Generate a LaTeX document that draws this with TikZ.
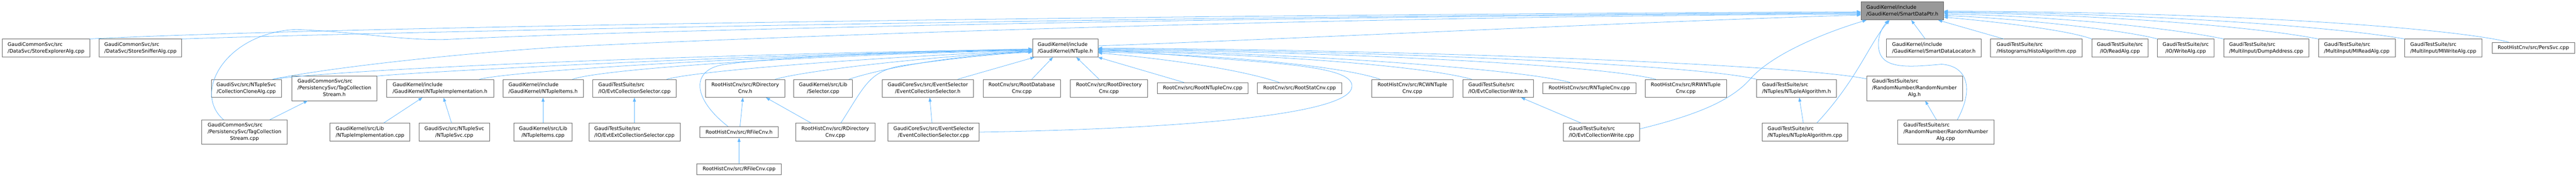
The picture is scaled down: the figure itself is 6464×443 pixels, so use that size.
\documentclass[tikz,border=0pt]{standalone}
\usepackage{fontspec}
\setmainfont{DejaVu Sans}
\usetikzlibrary{arrows.meta}
\definecolor{edgeblue}{HTML}{63B8FF}
\definecolor{boxgray}{HTML}{666666}
\definecolor{rootfill}{HTML}{999999}
\newcommand\dtwo[2]{\begin{tabular}{@{}l@{}}#1\\\multicolumn{1}{@{}c@{}}{#2}\end{tabular}}
\newcommand\dthree[3]{\begin{tabular}{@{}l@{}}#1\\#2\\\multicolumn{1}{@{}c@{}}{#3}\end{tabular}}
\begin{document}
\begin{tikzpicture}[x=1pt,y=-1pt,
  box/.style={draw=boxgray, fill=white, line width=1pt, inner sep=0pt, minimum height=45pt, font=\fontsize{12.5}{16.7}\selectfont},
  one/.style={box, minimum height=28pt},
  three/.style={box, minimum height=61pt},
  root/.style={box, fill=rootfill},
  edge/.style={draw=edgeblue, line width=1pt, -{Triangle[length=10pt,width=7.5pt]}}]
\fill[white] (0,0) rectangle (6464,443);
\useasboundingbox (0,0) rectangle (6464,443);
% root
\node[root, minimum width=207pt] (A) at (4773.5,27.5) {\dtwo{GaudiKernel/include}{/GaudiKernel/SmartDataPtr.h}};
% row 2
\node[box, minimum width=219pt] (SE) at (115.5,120.5) {\dtwo{GaudiCommonSvc/src}{/DataSvc/StoreExplorerAlg.cpp}};
\node[box, minimum width=207pt] (SS) at (352.5,120.5) {\dtwo{GaudiCommonSvc/src}{/DataSvc/StoreSnifferAlg.cpp}};
\node[box, minimum width=164pt] (NT) at (2673,120.5) {\dtwo{GaudiKernel/include}{/GaudiKernel/NTuple.h}};
\node[box, minimum width=237pt] (SDL) at (4852.5,120.5) {\dtwo{GaudiKernel/include}{/GaudiKernel/SmartDataLocator.h}};
\node[box, minimum width=230pt] (HA) at (5110,120.5) {\dtwo{GaudiTestSuite/src}{/Histograms/HistoAlgorithm.cpp}};
\node[box, minimum width=141pt] (RA) at (5319.5,120.5) {\dtwo{GaudiTestSuite/src}{/IO/ReadAlg.cpp}};
\node[box, minimum width=141pt] (WA) at (5484.5,120.5) {\dtwo{GaudiTestSuite/src}{/IO/WriteAlg.cpp}};
\node[box, minimum width=213pt] (DA) at (5686.5,120.5) {\dtwo{GaudiTestSuite/src}{/MultiInput/DumpAddress.cpp}};
\node[box, minimum width=193pt] (MR) at (5914,120.5) {\dtwo{GaudiTestSuite/src}{/MultiInput/MIReadAlg.cpp}};
\node[box, minimum width=194pt] (MW) at (6131,120.5) {\dtwo{GaudiTestSuite/src}{/MultiInput/MIWriteAlg.cpp}};
\node[one, minimum width=207pt] (PS) at (6357,120) {RootHistCnv/src/PersSvc.cpp};
% row 3
\node[box, minimum width=176pt] (CCA) at (618,221.5) {\dtwo{GaudiSvc/src/NTupleSvc}{/CollectionCloneAlg.cpp}};
\node[three, minimum width=214pt] (TCSh) at (839,221.5) {\dthree{GaudiCommonSvc/src}{/PersistencySvc/TagCollection}{Stream.h}};
\node[box, minimum width=269pt] (NIh) at (1104,221.5) {\dtwo{GaudiKernel/include}{/GaudiKernel/NTupleImplementation.h}};
\node[box, minimum width=202pt] (NItemsH) at (1362.7,221.5) {\dtwo{GaudiKernel/include}{/GaudiKernel/NTupleItems.h}};
\node[box, minimum width=209pt] (ECSel) at (1592,221.5) {\dtwo{GaudiTestSuite/src}{/IO/EvtCollectionSelector.cpp}};
\node[box, minimum width=200pt] (RDh) at (1870,221.5) {\dtwo{RootHistCnv/src/RDirectory}{Cnv.h}};
\node[box, minimum width=147pt] (SEL) at (2065.5,221.5) {\dtwo{GaudiKernel/src/Lib}{/Selector.cpp}};
\node[box, minimum width=229pt] (ECSh) at (2328,221.5) {\dtwo{GaudiCoreSvc/src/EventSelector}{/EventCollectionSelector.h}};
\node[box, minimum width=195pt] (RDB) at (2564,221.5) {\dtwo{RootCnv/src/RootDatabase}{Cnv.cpp}};
\node[box, minimum width=193pt] (RDIR) at (2782.5,221.5) {\dtwo{RootCnv/src/RootDirectory}{Cnv.cpp}};
\node[one, minimum width=228.5pt] (RNT) at (3018,221) {RootCnv/src/RootNTupleCnv.cpp};
\node[one, minimum width=211pt] (RST) at (3261,221) {RootCnv/src/RootStatCnv.cpp};
\node[box, minimum width=204pt] (RCW) at (3544,221.5) {\dtwo{RootHistCnv/src/RCWNTuple}{Cnv.cpp}};
\node[box, minimum width=177pt] (ECWh) at (3759,221.5) {\dtwo{GaudiTestSuite/src}{/IO/EvtCollectionWrite.h}};
\node[one, minimum width=234pt] (RNTC) at (3988,221) {RootHistCnv/src/RNTupleCnv.cpp};
\node[box, minimum width=204pt] (RRW) at (4230,221.5) {\dtwo{RootHistCnv/src/RRWNTuple}{Cnv.cpp}};
\node[box, minimum width=200pt] (NAh) at (4508,221.5) {\dtwo{GaudiTestSuite/src}{/NTuples/NTupleAlgorithm.h}};
\node[three, minimum width=240.6pt] (RNAh) at (4804,221.5) {\dthree{GaudiTestSuite/src}{/RandomNumber/RandomNumber}{Alg.h}};
% row 4
\node[three, minimum width=214pt] (TCSc) at (613.5,331) {\dthree{GaudiCommonSvc/src}{/PersistencySvc/TagCollection}{Stream.cpp}};
\node[box, minimum width=200pt] (NIc) at (928.5,331) {\dtwo{GaudiKernel/src/Lib}{/NTupleImplementation.cpp}};
\node[box, minimum width=176pt] (NSc) at (1140,331) {\dtwo{GaudiSvc/src/NTupleSvc}{/NTupleSvc.cpp}};
\node[box, minimum width=146pt] (NItc) at (1362.7,331) {\dtwo{GaudiKernel/src/Lib}{/NTupleItems.cpp}};
\node[box, minimum width=228.7pt] (EECS) at (1592,331) {\dtwo{GaudiTestSuite/src}{/IO/EvtExtCollectionSelector.cpp}};
\node[one, minimum width=197pt] (RFh) at (1854.5,331) {RootHistCnv/src/RFileCnv.h};
\node[box, minimum width=198pt] (RDc) at (2096,331) {\dtwo{RootHistCnv/src/RDirectory}{Cnv.cpp}};
\node[box, minimum width=229pt] (ECSc) at (2342.7,331) {\dtwo{GaudiCoreSvc/src/EventSelector}{/EventCollectionSelector.cpp}};
\node[box, minimum width=191pt] (ECWc) at (4018.5,331) {\dtwo{GaudiTestSuite/src}{/IO/EvtCollectionWrite.cpp}};
\node[box, minimum width=214.5pt] (NAc) at (4529,331) {\dtwo{GaudiTestSuite/src}{/NTuples/NTupleAlgorithm.cpp}};
\node[three, minimum width=241pt] (RNAc) at (4882.5,331) {\dthree{GaudiTestSuite/src}{/RandomNumber/RandomNumber}{Alg.cpp}};
% row 5
\node[one, minimum width=212pt] (RFc) at (1854.5,424) {RootHistCnv/src/RFileCnv.cpp};
% ---- edges to SmartDataPtr.h
\draw[edge] (SE.north east) .. controls (900,64) and (3000,37) .. ([yshift=-2pt]A.west);
\draw[edge] (SS.north east) .. controls (1100,76) and (3000,40) .. ([yshift=-4pt]A.west);
\draw[edge] ([xshift=-52.5pt]TCSc.north) .. controls (480,230) and (570,80) .. (744,74) .. controls (900,80) and (1000,101) .. (1119,99) .. controls (1600,75) and (3200,40) .. ([yshift=-6pt]A.west);
\draw[edge] ([xshift=66pt]CCA.north) .. controls (850,165) and (1200,130) .. (1420,117) .. controls (2200,80) and (3500,40) .. ([yshift=-8pt]A.west);
\draw[edge] ([yshift=5.5pt]NT.east) .. controls (3300,95) and (4100,55) .. ([yshift=-10pt]A.west);
\draw[edge] ([xshift=-82pt]HA.north) -- ([xshift=-14pt]A.south east);
\draw[edge] ([xshift=-21.5pt]SDL.north) -- ([xshift=22.5pt]A.south);
\draw[edge] (RA.north west) .. controls (5180,72) and (4960,50) .. ([yshift=-15.5pt]A.east);
\draw[edge] (WA.north west) .. controls (5330,75) and (5050,45) .. ([yshift=-11.5pt]A.east);
\draw[edge] (DA.north west) .. controls (5450,70) and (5150,40) .. ([yshift=-7.5pt]A.east);
\draw[edge] (MR.north west) .. controls (5650,65) and (5250,35) .. ([yshift=-4.5pt]A.east);
\draw[edge] (MW.north west) .. controls (5850,65) and (5350,32) .. ([yshift=-2.5pt]A.east);
\draw[edge] ([xshift=-62pt]PS.north) .. controls (6150,70) and (5600,30) .. ([yshift=-0.5pt]A.east);
\draw[edge] ([yshift=8pt]ECWc.east) .. controls (4250,290) and (4340,255) .. (4390,200) .. controls (4450,130) and (4600,75) .. ([xshift=14pt]A.south west);
\draw[edge] ([xshift=30pt]NAc.north) .. controls (4660,200) and (4690,110) .. ([xshift=-32pt]A.south);
\draw[edge] ([xshift=29pt]RNAc.north) .. controls (4955,220) and (4935,165) .. (4872,161) .. controls (4790,168) and (4720,175) .. (4714,120) .. controls (4710,90) and (4726,65) .. ([xshift=-35pt]A.south);
% ---- edges to NTuple.h from the left
\draw[edge] ([xshift=66pt]CCA.north) .. controls (900,170) and (1800,135) .. ([yshift=-3pt]NT.west);
\draw[edge] (TCSh.north east) .. controls (1050,180) and (1900,135) .. ([yshift=-4pt]NT.west);
\draw[edge] ([xshift=99pt]NIh.north) .. controls (1300,175) and (2000,135) .. ([yshift=-5pt]NT.west);
\draw[edge] ([xshift=74pt]NItemsH.north) .. controls (1520,170) and (2100,135) .. ([yshift=-6pt]NT.west);
\draw[edge] ([xshift=81pt]ECSel.north) .. controls (1760,175) and (2250,140) .. ([yshift=-7pt]NT.west);
\draw[edge] ([xshift=75pt]RDh.north) .. controls (2030,175) and (2350,140) .. ([yshift=-8pt]NT.west);
\draw[edge] ([xshift=-28pt]RFh.north) .. controls (1735,245) and (1735,175) .. (1815,162) .. controls (1950,142) and (2300,128) .. ([yshift=-2pt]NT.west);
\draw[edge] ([xshift=64.5pt]SEL.north) .. controls (2250,160) and (2450,135) .. ([yshift=-9pt]NT.west);
\draw[edge] ([xshift=14pt]RDc.north) .. controls (2170,215) and (2180,180) .. (2260,165) .. controls (2400,145) and (2500,135) .. ([yshift=-10pt]NT.west);
% ---- from below
\draw[edge] ([xshift=75pt]ECSh.north) -- ([xshift=5pt]NT.south west);
\draw[edge] ([xshift=25pt]RDB.north) -- ([xshift=-31pt]NT.south);
\draw[edge] ([xshift=-24.5pt]RDIR.north) -- ([xshift=28pt]NT.south);
\draw[edge] ([xshift=-47pt]RNT.north) -- (NT.south east);
% ---- from the right
\draw[edge] ([xshift=-51pt]RST.north) .. controls (3100,170) and (2900,145) .. ([yshift=-12pt]NT.east);
\draw[edge] ([xshift=-81pt]RCW.north) .. controls (3350,160) and (3000,135) .. ([yshift=-10pt]NT.east);
\draw[edge] ([xshift=-66pt]ECWh.north) .. controls (3550,160) and (3100,132) .. ([yshift=-8pt]NT.east);
\draw[edge] ([xshift=-48pt]RNTC.north) .. controls (3800,170) and (3200,130) .. ([yshift=-6pt]NT.east);
\draw[edge] ([xshift=-75pt]RRW.north) .. controls (4000,160) and (3300,128) .. ([yshift=-4pt]NT.east);
\draw[edge] (NAh.north west) .. controls (4250,160) and (3400,126) .. ([yshift=-2pt]NT.east);
\draw[edge] ([yshift=-7pt]RNAh.north west) .. controls (4500,160) and (3500,124) .. (NT.east);
\draw[edge] (ECSc.east) .. controls (3000,322) and (3360,285) .. (3390,225) .. controls (3410,180) and (3300,165) .. (3100,150) .. controls (2950,138) and (2850,130) .. ([yshift=-3pt]NT.east);
% ---- short links
\draw[edge] ([xshift=63.5pt]TCSc.north) -- ([xshift=-67pt]TCSh.south);
\draw[edge] ([xshift=34.5pt]NIc.north) -- ([xshift=-44pt]NIh.south);
\draw[edge] ([xshift=-7pt]NSc.north) -- ([xshift=9pt]NIh.south);
\draw[edge] (NItc.north) -- (NItemsH.south);
\draw[edge] (EECS.north) -- (ECSel.south);
\draw[edge] ([xshift=2.5pt]RFh.north) -- ([xshift=-6pt]RDh.south);
\draw[edge] (RFc.north) -- (RFh.south);
\draw[edge] ([xshift=-61pt]RDc.north) -- ([xshift=52pt]RDh.south);
\draw[edge] ([xshift=-4pt]ECSc.north) -- ([xshift=5pt]ECSh.south);
\draw[edge] ([xshift=-51.5pt]ECWc.north) -- ([xshift=58pt]ECWh.south);
\draw[edge] ([xshift=-4pt]NAc.north) -- ([xshift=7pt]NAh.south);
\draw[edge] ([xshift=-23.5pt]RNAc.north) -- ([xshift=27pt]RNAh.south);
\end{tikzpicture}
\end{document}
